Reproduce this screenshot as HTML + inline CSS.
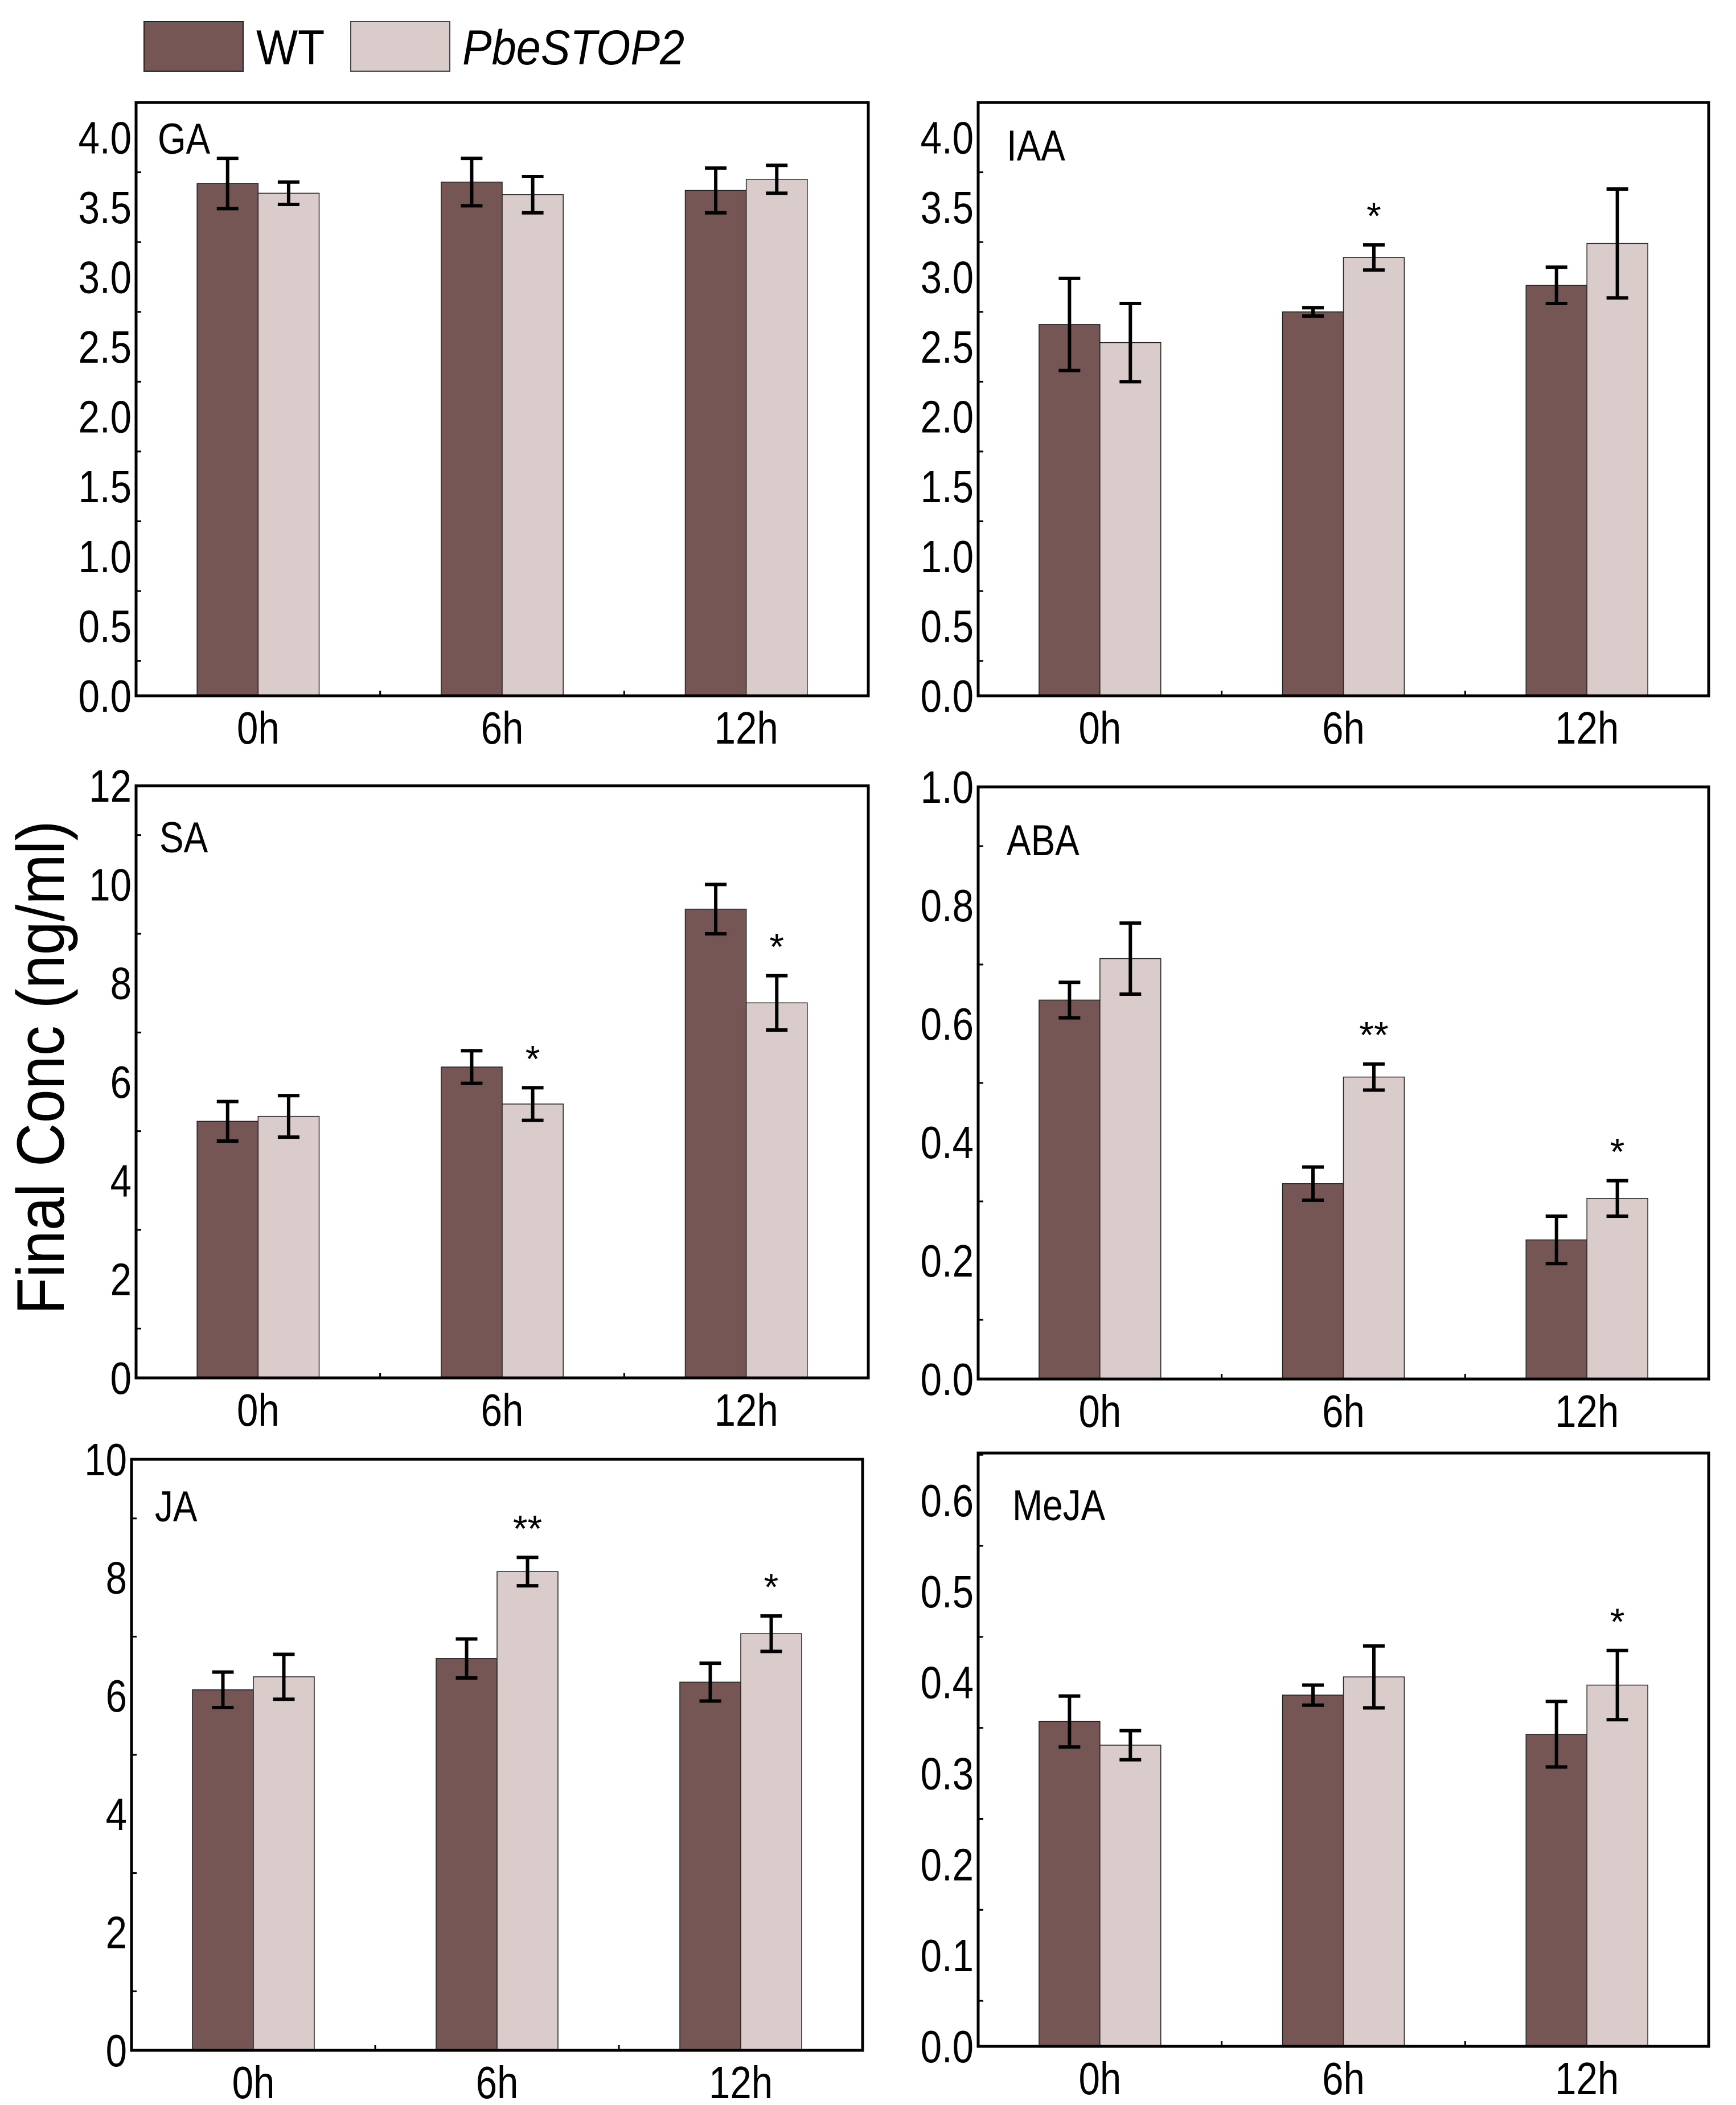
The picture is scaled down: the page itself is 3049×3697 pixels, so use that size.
<!DOCTYPE html>
<html><head><meta charset="utf-8">
<style>
html,body{margin:0;padding:0;background:#fff;}
svg{display:block;}
text{font-family:"Liberation Sans Narrow","Liberation Sans",sans-serif;fill:#000;}
</style></head>
<body>
<svg id="fig" width="3049" height="3697" viewBox="0 0 3049 3697" xmlns="http://www.w3.org/2000/svg">
  <g>
    <rect x="253" y="38" width="174" height="87" fill="#765555" stroke="#222" stroke-width="2"/>
    <text transform="translate(450,113) scale(0.9,1)" font-size="86">WT</text>
    <rect x="616" y="38" width="174" height="87" fill="#dbcccc" stroke="#444" stroke-width="2"/>
    <text transform="translate(812,113) scale(0.9,1)" font-size="86" font-style="italic">PbeSTOP2</text>
  </g>
  <text transform="translate(112,1875) rotate(-90) scale(0.9,1)" text-anchor="middle" font-size="118">Final Conc (ng/ml)</text>
</svg>
<script>
const categories = ["0h","6h","12h"];
const gaWT = [3.67,3.68,3.62], gaWTErr = [0.18,0.17,0.16];
const gaPb = [3.60,3.59,3.70], gaPbErr = [0.08,0.13,0.10];
const iaaWT = [2.66,2.75,2.94], iaaWTErr = [0.33,0.03,0.13];
const iaaPb = [2.53,3.14,3.24], iaaPbErr = [0.28,0.09,0.39];
const saWT = [5.2,6.3,9.5], saWTErr = [0.4,0.33,0.5];
const saPb = [5.3,5.55,7.6], saPbErr = [0.42,0.33,0.55];
const abaWT = [0.64,0.33,0.235], abaWTErr = [0.03,0.028,0.04];
const abaPb = [0.71,0.51,0.305], abaPbErr = [0.06,0.022,0.03];
const jaWT = [6.1,6.63,6.23], jaWTErr = [0.3,0.33,0.32];
const jaPb = [6.32,8.1,7.05], jaPbErr = [0.38,0.24,0.3];
const mejaWT = [0.357,0.386,0.343], mejaWTErr = [0.028,0.011,0.036];
const mejaPb = [0.331,0.406,0.397], mejaPbErr = [0.016,0.034,0.038];
const gaStars = ["","",""], iaaStars = ["","*",""], saStars = ["","*","*"];
const abaStars = ["","**","*"], jaStars = ["","**","*"], mejaStars = ["","","*"];
const gaTicks = ["0.0","0.5","1.0","1.5","2.0","2.5","3.0","3.5","4.0"];
const iaaTicks = ["0.0","0.5","1.0","1.5","2.0","2.5","3.0","3.5","4.0"];
const saTicks = ["0","2","4","6","8","10","12"];
const abaTicks = ["0.0","0.2","0.4","0.6","0.8","1.0"];
const jaTicks = ["0","2","4","6","8","10"];
const mejaTicks = ["0.0","0.1","0.2","0.3","0.4","0.5","0.6"];

const NS = "http://www.w3.org/2000/svg";
const svg = document.getElementById('fig');
function mk(tag, attrs, parent){
  const e = document.createElementNS(NS, tag);
  for (const k in attrs) e.setAttribute(k, attrs[k]);
  parent.appendChild(e);
  return e;
}
function ctext(x, y, size, anchor, str, parent){
  const t = mk('text', {transform:`translate(${x},${y}) scale(0.84,1)`, 'font-size':size, 'text-anchor':anchor}, parent);
  t.textContent = str;
  return t;
}
const panels = [
  {id:"ga", name:"GA", x0:239, x1:1525, y0:180, y1:1222, max:4.25, ticks:gaTicks, wt:gaWT, wte:gaWTErr, pb:gaPb, pbe:gaPbErr, stars:gaStars, lx:277, ly:270},
  {id:"iaa", name:"IAA", x0:1718, x1:3001, y0:180, y1:1222, max:4.25, ticks:iaaTicks, wt:iaaWT, wte:iaaWTErr, pb:iaaPb, pbe:iaaPbErr, stars:iaaStars, lx:1768, ly:282},
  {id:"sa", name:"SA", x0:239, x1:1525, y0:1380, y1:2420, max:12, ticks:saTicks, wt:saWT, wte:saWTErr, pb:saPb, pbe:saPbErr, stars:saStars, lx:280, ly:1497},
  {id:"aba", name:"ABA", x0:1718, x1:3001, y0:1382, y1:2422, max:1.0, ticks:abaTicks, wt:abaWT, wte:abaWTErr, pb:abaPb, pbe:abaPbErr, stars:abaStars, lx:1768, ly:1502},
  {id:"ja", name:"JA", x0:231, x1:1515, y0:2563, y1:3601, max:10, ticks:jaTicks, wt:jaWT, wte:jaWTErr, pb:jaPb, pbe:jaPbErr, stars:jaStars, lx:272, ly:2672},
  {id:"meja", name:"MeJA", x0:1718, x1:3001, y0:2552, y1:3594, max:0.652, ticks:mejaTicks, wt:mejaWT, wte:mejaWTErr, pb:mejaPb, pbe:mejaPbErr, stars:mejaStars, lx:1778, ly:2670}
];

panels.forEach(p => {
  const g = mk('g', {}, svg);
  
  
  const W = p.x1 - p.x0, step = W / 3;
  const xc = i => p.x0 + step * (i + 0.5);
  const yv = v => p.y1 - (v / p.max) * (p.y1 - p.y0);
  const bw = step * 0.25;
  const tickStep = parseFloat(p.ticks[1]) - parseFloat(p.ticks[0]);
  p.ticks.forEach((t) => {
    const v = parseFloat(t);
    const y = yv(v);
    const lab = ctext(p.x0 - 8, y + 28, 80, 'end', t, g);
    
    
    const mv = v + tickStep / 2;
    if (mv <= p.max) {
      const ym = yv(mv);
      mk('line', {x1:p.x0, x2:p.x0 + 9, y1:ym, y2:ym, stroke:'#000', 'stroke-width':3}, g);
    }
  });
  [1,2].forEach(i => {
    const x = p.x0 + step * i;
    mk('line', {x1:x, x2:x, y1:p.y1, y2:p.y1 - 9, stroke:'#000', 'stroke-width':3}, g);
  });
  categories.forEach((c, i) => {
    const cx = xc(i);
    const series = [[p.wt[i], p.wte[i], '#765555', cx - bw, 'wt'], [p.pb[i], p.pbe[i], '#dbcccc', cx, 'pbestop2']];
    series.forEach(s => {
      const top = yv(s[0]);
      const r = mk('rect', {x:s[3], y:top, width:bw, height:p.y1 - top, fill:s[2], stroke:'#222', 'stroke-width':1.5}, g);
      
      
      const ex = s[3] + bw / 2, e1 = yv(s[0] + s[1]), e2 = yv(s[0] - s[1]);
      const eb = mk('path', {d:`M${ex},${e1}V${e2}M${ex-19},${e1}H${ex+19}M${ex-19},${e2}H${ex+19}`, stroke:'#000', 'stroke-width':6, fill:'none'}, g);
      
      
    });
    if (p.stars[i]) {
      const st = mk('text', {x:cx + bw / 2, y:yv(p.pb[i] + p.pbe[i]) - 28, 'font-size':66, 'text-anchor':'middle'}, g);
      st.textContent = p.stars[i];
      
      
    }
    const xl = ctext(cx, p.y1 + 84, 80, 'middle', c, g);
    
    
  });
  const fr = mk('rect', {x:p.x0, y:p.y0, width:W, height:p.y1 - p.y0, fill:'none', stroke:'#000', 'stroke-width':5}, g);
  
  
  const tl = ctext(p.lx, p.ly, 76, 'start', p.name, g);
  
  
});
</script>
</body></html>
